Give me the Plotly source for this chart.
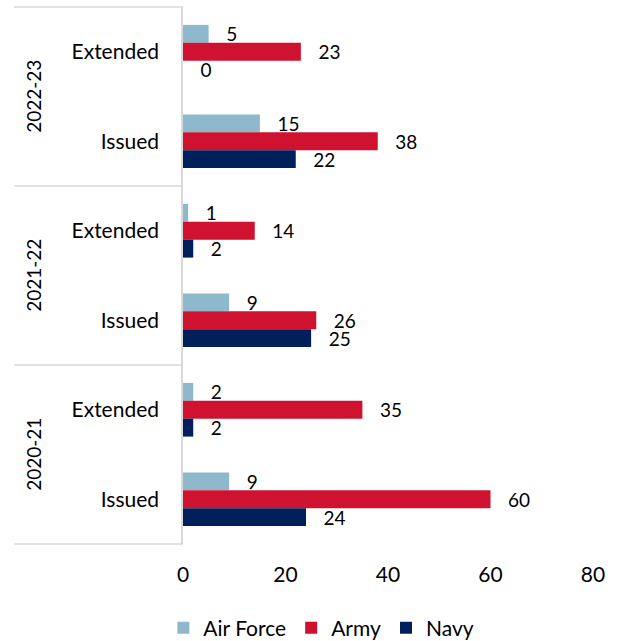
import plotly.graph_objects as go

years = ["2022-23", "2021-22", "2020-21"]
types = ["Extended", "Issued"]
series = ["Air Force", "Army", "Navy"]
# values ordered top-to-bottom: 2022-23 Extended, 2022-23 Issued, 2021-22 Extended, ...
air_force = [5, 15, 1, 9, 2, 9]
army = [23, 38, 14, 26, 35, 60]
navy = [0, 22, 2, 25, 2, 24]
colors = ["#8EB8CB", "#CF1230", "#00205B"]
x_ticks = [0, 20, 40, 60, 80]

cats = [f"{y}|{t}" for y in years for t in types]
tick_text = [t for y in years for t in types]

FONT = "Lato, Carlito, Calibri, sans-serif"

fig = go.Figure()
for name, vals, col in zip(series, [air_force, army, navy], colors):
    fig.add_trace(go.Bar(
        name=name, y=cats, x=vals, orientation="h",
        marker=dict(color=col, line=dict(width=0)),
        texttemplate="\u00a0\u00a0\u00a0%{x}", textposition="outside",
        constraintext="none",
        textfont=dict(size=19, color="#000000", family=FONT),
        cliponaxis=False,
    ))

shapes = []
annotations = []
n = len(years)
for i in range(n + 1):
    yp = 1 - i / n
    shapes.append(dict(type="line", xref="paper", yref="paper",
                       x0=-0.412, x1=0, y0=yp, y1=yp,
                       line=dict(color="#D9D9D9", width=1.5)))
for i, yr in enumerate(years):
    annotations.append(dict(text=yr, xref="paper", yref="paper",
                            x=-0.365, y=1 - (i + 0.5) / n, textangle=-90,
                            showarrow=False, xanchor="center", yanchor="middle",
                            font=dict(size=19, color="#000000", family=FONT)))

fig.update_layout(
    width=618, height=641,
    margin=dict(l=183, r=25, t=7, b=97),
    paper_bgcolor="white", plot_bgcolor="white",
    barmode="group", bargap=0.4, bargroupgap=0,
    font=dict(family=FONT, size=21, color="#000000"),
    shapes=shapes, annotations=annotations,
    legend=dict(orientation="h", xref="container", yref="container",
                x=0.52, xanchor="center", y=0.02, yanchor="middle",
                font=dict(size=21, family=FONT), traceorder="normal",
                itemwidth=30, tracegroupgap=0),
    showlegend=True,
)
fig.update_xaxes(range=[0, 80], tickvals=x_ticks, showgrid=False, zeroline=False,
                 showline=False, ticks="outside", ticklen=12,
                 tickcolor="rgba(0,0,0,0)", tickfont=dict(size=21, family=FONT))
fig.update_yaxes(categoryorder="array", categoryarray=cats, autorange="reversed",
                 tickvals=cats, ticktext=tick_text, showgrid=False,
                 showline=True, linecolor="#D9D9D9", linewidth=1.5,
                 ticks="outside", ticklen=18, tickcolor="rgba(0,0,0,0)",
                 tickfont=dict(size=21, family=FONT))

fig.write_html("out.html")
